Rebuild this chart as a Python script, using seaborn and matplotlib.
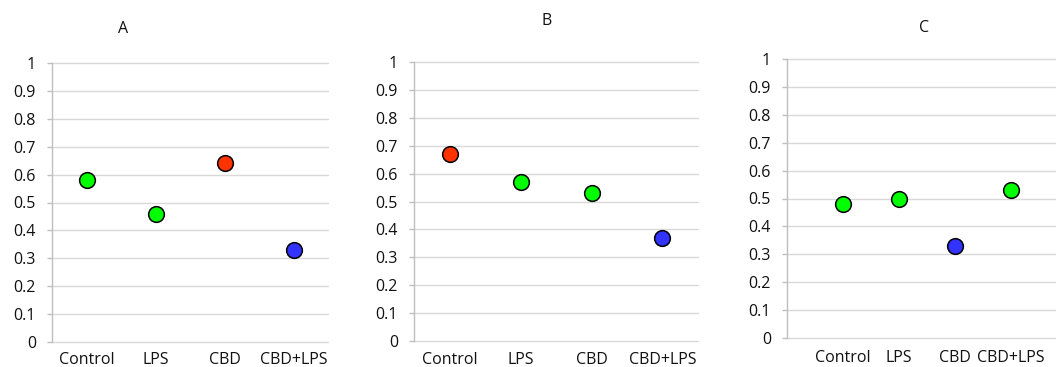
import matplotlib
matplotlib.use("Agg")
import matplotlib.pyplot as plt
import seaborn as sns
import pandas as pd

categories = ["Control", "LPS", "CBD", "CBD+LPS"]
panel_titles = ["A", "B", "C"]
values_a = [0.58, 0.46, 0.64, 0.33]
values_b = [0.67, 0.57, 0.53, 0.37]
values_c = [0.48, 0.50, 0.33, 0.53]
colors_a = ["#00ff00", "#00ff00", "#ff3300", "#3333ff"]
colors_b = ["#ff3300", "#00ff00", "#00ff00", "#3333ff"]
colors_c = ["#00ff00", "#00ff00", "#3333ff", "#00ff00"]
y_ticks = [0, 0.1, 0.2, 0.3, 0.4, 0.5, 0.6, 0.7, 0.8, 0.9, 1]
y_ticklabels = ["0", "0.1", "0.2", "0.3", "0.4", "0.5", "0.6", "0.7", "0.8", "0.9", "1"]

sns.set_theme(style="white")
plt.rcParams["font.family"] = ["Open Sans", "DejaVu Sans"]

W, H = 1056, 367
fig = plt.figure(figsize=(W / 100, H / 100), dpi=100)

# axes boxes in pixels: left, right, top(y=1), bottom(y=0), xlim
boxes = [
    (52, 328, 63, 342, (-0.5, 3.5)),
    (414, 698, 62, 341, (-0.5, 3.5)),
    (787, 1067, 59.3, 337.7, (-1.0, 4.0)),
]
title_pos = [(123, 29), (547, 21), (924, 28)]
xpads = [7.5, 8, 8.5]

panels = [(values_a, colors_a), (values_b, colors_b), (values_c, colors_c)]
FS = 11.5

for i, ((vals, cols), (l, r, t, b, xl)) in enumerate(zip(panels, boxes)):
    ax = fig.add_axes([l / W, (H - b) / H, (r - l) / W, (b - t) / H])
    df = pd.DataFrame({"group": categories, "value": vals})
    sns.stripplot(data=df, x="group", y="value", hue="group", order=categories,
                  hue_order=categories, palette=cols, jitter=False, size=11.3,
                  linewidth=1.1, edgecolor="black", legend=False, ax=ax, zorder=3)
    ax.set_xlim(*xl)
    ax.set_ylim(0, 1)
    ax.set_yticks(y_ticks)
    ax.set_yticklabels(y_ticklabels)
    ax.set_xlabel("")
    ax.set_ylabel("")
    ax.grid(False)
    for y in y_ticks:
        ax.axhline(y, color="#d9d9d9", lw=1.0, zorder=1, clip_on=False)
    for s in ["top", "right", "bottom"]:
        ax.spines[s].set_visible(False)
    ax.spines["left"].set_color("#bfbfbf")
    ax.spines["left"].set_linewidth(1.0)
    ax.tick_params(axis="y", which="major", length=3.5, width=1.0, color="#bfbfbf",
                   pad=8, labelsize=FS, labelcolor="#111111", left=True)
    ax.tick_params(axis="x", length=0, pad=xpads[i], labelsize=FS, labelcolor="#111111")
    ax.set_facecolor("white")
    tx, ty = title_pos[i]
    fig.text(tx / W, 1 - ty / H, panel_titles[i], ha="center", va="center",
             fontsize=FS, color="#111111")

fig.savefig("out.png", dpi=100, facecolor="white")
